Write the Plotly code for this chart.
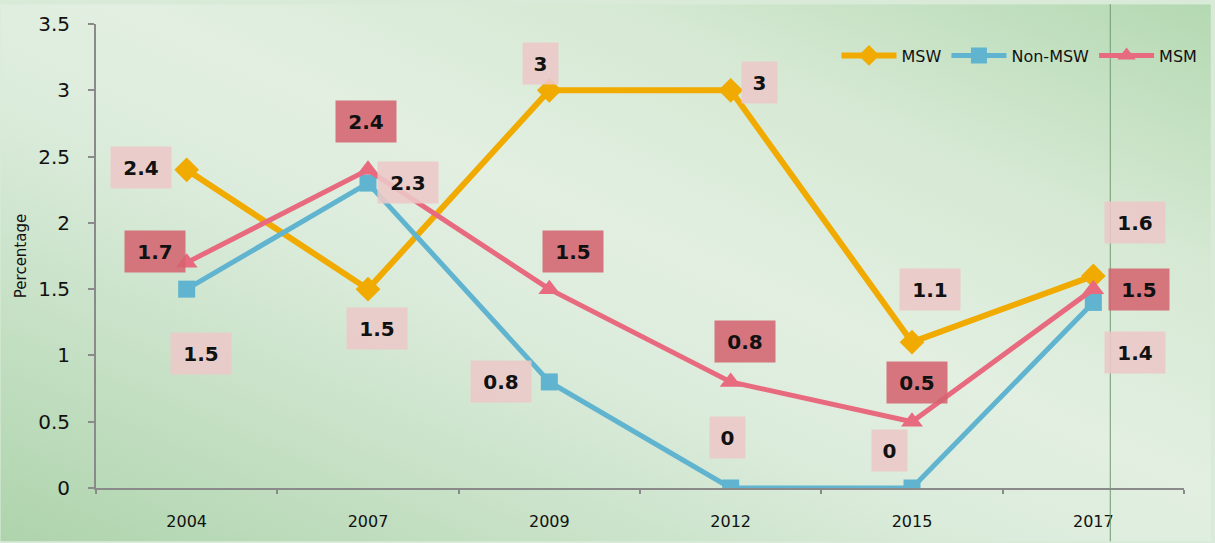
import base64
import plotly.graph_objects as go

# ---- data ----
years = ["2004", "2007", "2009", "2012", "2015", "2017"]
msw = [2.4, 1.5, 3, 3, 1.1, 1.6]
non_msw = [1.5, 2.3, 0.8, 0, 0, 1.4]
msm = [1.7, 2.4, 1.5, 0.8, 0.5, 1.5]
y_ticks = [0, 0.5, 1, 1.5, 2, 2.5, 3, 3.5]
y_tick_text = ["0", "0.5", "1", "1.5", "2", "2.5", "3", "3.5"]

# ---- label offsets (pixels; style only) ----
msw_off = [(-46, -2), (9, 39), (-9, -27), (29, -8), (18, -53), (42, -53)]
non_off = [(14, 64), (40, -1), (-48, 0), (-3, -51), (-23, -38), (42, 50)]
msm_off = [(-32, -11), (-2, -48), (24, -38), (14, -40), (5, -39), (46, 0)]

C_MSW = "#F0AA00"
C_NON = "#60B4CF"
C_MSM = "#E86A7E"
LIGHT_BOX = "rgba(236,200,200,0.88)"
DARK_BOX = "rgba(212,100,112,0.88)"

W, H = 1215, 543
L, R, T, B = 96, 27, 20, 54
PW, PH = W - L - R, H - T - B

fig = go.Figure()
fig.add_trace(go.Scatter(x=years, y=msw, name="MSW", mode="lines+markers",
                         line=dict(color=C_MSW, width=6),
                         marker=dict(symbol="diamond", size=19, color=C_MSW)))
fig.add_trace(go.Scatter(x=years, y=non_msw, name="Non-MSW", mode="lines+markers",
                         line=dict(color=C_NON, width=5),
                         marker=dict(symbol="square", size=17, color=C_NON)))
fig.add_trace(go.Scatter(x=years, y=msm, name="MSM", mode="lines+markers",
                         line=dict(color=C_MSM, width=5),
                         marker=dict(symbol="triangle-up", size=19, color=C_MSM)))

def fmt(v):
    return ("%g" % v)

annotations = []
for vals, offs, box in [(msw, msw_off, LIGHT_BOX), (non_msw, non_off, LIGHT_BOX), (msm, msm_off, DARK_BOX)]:
    for i, (v, (dx, dy)) in enumerate(zip(vals, offs)):
        txt = fmt(v)
        annotations.append(dict(
            x=i, y=v, xref="x", yref="y", text="<b>%s</b>" % txt, showarrow=False,
            xshift=dx, yshift=-dy, bgcolor=box, width=58 if len(txt) > 1 else 33,
            height=39, align="center", valign="middle",
            font=dict(family="DejaVu Sans", size=20, color="#111111"),
        ))

# gradient background via SVG data URI
svg = f'''<svg xmlns="http://www.w3.org/2000/svg" width="{W}" height="{H}" preserveAspectRatio="none">
<defs><linearGradient id="g" x1="0" y1="1" x2="1" y2="0">
<stop offset="0" stop-color="#aed4ac"/>
<stop offset="0.42" stop-color="#dcecdc"/>
<stop offset="0.55" stop-color="#e2efe1"/>
<stop offset="0.75" stop-color="#d6e9d4"/>
<stop offset="1" stop-color="#b4d9b2"/>
</linearGradient></defs>
<rect width="{W}" height="{H}" fill="url(#g)"/></svg>'''
src = "data:image/svg+xml;base64," + base64.b64encode(svg.encode()).decode()

fig.update_layout(
    width=W, height=H,
    margin=dict(l=L, r=R, t=T, b=B),
    paper_bgcolor="#d9ebd8", plot_bgcolor="rgba(0,0,0,0)",
    images=[dict(source=src, xref="paper", yref="paper",
                 x=-L / PW, y=1 + T / PH, sizex=W / PW, sizey=H / PH,
                 sizing="stretch", xanchor="left", yanchor="top", layer="below")],
    showlegend=True,
    legend=dict(orientation="h", x=1.017, xanchor="right", y=0.932, yanchor="middle",
                bgcolor="rgba(0,0,0,0)", font=dict(family="DejaVu Sans", size=16, color="#111"),
                itemwidth=55, tracegroupgap=0),
    xaxis=dict(type="category", showgrid=False, showline=True, linecolor="#8a8a8a", linewidth=2,
               ticks="outside", tickson="boundaries", ticklen=4, tickcolor="#8a8a8a", tickwidth=2,
               tickfont=dict(family="DejaVu Sans", size=16, color="#111"), zeroline=False,
               ticklabelstandoff=18, range=[-0.5, 5.5]),
    yaxis=dict(range=[0, 3.5], tickvals=y_ticks, ticktext=y_tick_text, showgrid=False,
               showline=True, linecolor="#8a8a8a", linewidth=2, ticks="outside", ticklen=6,
               tickcolor="#8a8a8a", tickwidth=2, zeroline=False, ticklabelstandoff=14,
               tickfont=dict(family="DejaVu Sans", size=20, color="#111"),
               title=dict(text="Percentage", font=dict(family="DejaVu Sans", size=15, color="#111"),
                          standoff=8)),
    annotations=annotations,
    shapes=[dict(type="line", xref="paper", yref="paper",
                 x0=(1114 - L) / PW, x1=(1114 - L) / PW, y0=-B / PH, y1=1 + T / PH,
                 line=dict(color="#6f9a6f", width=1), layer="above")],
)

fig.write_html("out.html", config={"displayModeBar": False},
               post_script="document.body.style.margin='0';document.body.style.overflow='hidden';")
